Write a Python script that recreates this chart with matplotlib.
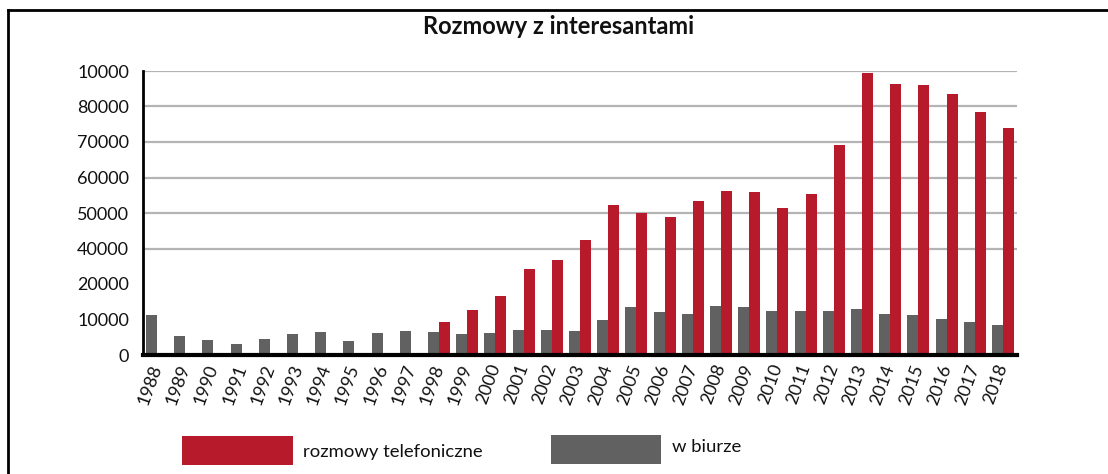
import numpy as np
import matplotlib
matplotlib.use("Agg")
import matplotlib.pyplot as plt
from matplotlib.patches import Rectangle
from matplotlib.lines import Line2D

plt.rcParams['font.family'] = ['Lato', 'DejaVu Sans']

years = [str(y) for y in range(1988, 2019)]
telefon = [0, 0, 0, 0, 0, 0, 0, 0, 0, 0,
           9300, 12800, 16600, 24200, 26800, 32400, 42300, 40000, 38900, 43400,
           46200, 45900, 41400, 45400, 59200, 79400, 76300, 76100, 73500, 68500, 63900]
biuro = [11300, 5400, 4200, 3100, 4500, 5900, 6500, 3900, 6200, 6800,
         6500, 5800, 6200, 7000, 7000, 6800, 9900, 13500, 12100, 11500,
         13800, 13500, 12400, 12400, 12400, 13000, 11500, 11300, 10100, 9300, 8500]
ytick_vals = [0, 10000, 20000, 30000, 40000, 50000, 60000, 70000, 80000]
ytick_labels = ['0', '10000', '20000', '40000', '50000', '60000', '70000', '80000', '10000']

red = '#b71b2b'
gray = '#616161'

W, H = 1108, 474
fig = plt.figure(figsize=(W / 100, H / 100), dpi=100)
ax = fig.add_axes([143 / W, 1 - 355 / H, 874 / W, 284 / H])

x = np.arange(len(years))
bw = 11 / 28.2
ax.bar(x - bw / 2, biuro, width=bw, color=gray, zorder=3)
ax.bar(x + bw / 2, telefon, width=bw, color=red, zorder=3)

ax.set_xlim(-0.5, len(years) - 0.5)
ax.set_ylim(0, 80000)
ax.set_yticks(ytick_vals)
ax.set_yticklabels(ytick_labels, fontsize=13, color='#111111')
ax.set_xticks(x)
ax.set_xticklabels(years, rotation=70, rotation_mode='anchor', ha='right', va='center',
                   fontsize=13, color='#111111')
ax.tick_params(length=0)
ax.tick_params(axis='y', pad=10)
ax.tick_params(axis='x', pad=7)

# grid only from the 4th tick upward, like the original
for v in ytick_vals[3:]:
    ax.axhline(v, color='#b4b4b4', lw=1.6, zorder=1)

for s in ['top', 'right']:
    ax.spines[s].set_visible(False)
ax.spines['left'].set_linewidth(2)
ax.spines['bottom'].set_linewidth(3)
ax.spines['left'].set_zorder(4)
ax.spines['bottom'].set_zorder(4)

fig.text(559 / W, 1 - 27 / H, 'Rozmowy z interesantami', ha='center', va='center',
         fontsize=17, fontweight='bold', color='#111111')

# legend
fig.add_artist(Rectangle((182 / W, 1 - 465 / H), 111 / W, 29 / H, transform=fig.transFigure,
                         color=red, lw=0))
fig.text(303 / W, 1 - 452 / H, 'rozmowy telefoniczne', ha='left', va='center', fontsize=13.3,
         color='#111111')
fig.add_artist(Rectangle((551 / W, 1 - 464 / H), 110 / W, 29 / H, transform=fig.transFigure,
                         color=gray, lw=0))
fig.text(672 / W, 1 - 447 / H, 'w biurze', ha='left', va='center', fontsize=13.3,
         color='#111111')

# frame lines (top and left only)
fig.add_artist(Line2D([8 / W, 1], [1 - 10 / H, 1 - 10 / H], transform=fig.transFigure,
                      color='black', lw=2))
fig.add_artist(Line2D([8 / W, 8 / W], [0, 1 - 10 / H], transform=fig.transFigure,
                      color='black', lw=2))

fig.savefig('out.png', dpi=100)
